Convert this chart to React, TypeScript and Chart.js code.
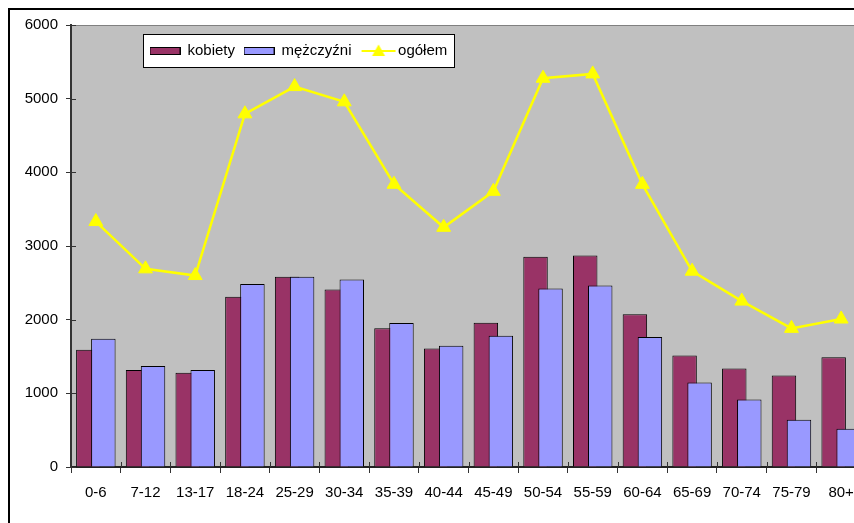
import React, { useEffect, useRef } from "react";
import { Chart, registerables } from "chart.js";

Chart.register(...registerables);

const categories = ["0-6", "7-12", "13-17", "18-24", "25-29", "30-34", "35-39", "40-44", "45-49", "50-54", "55-59", "60-64", "65-69", "70-74", "75-79", "80+"];
const kobiety = [1590, 1318, 1281, 2311, 2582, 2411, 1883, 1607, 1959, 2853, 2871, 2072, 1512, 1336, 1241, 1490];
const mezczyzni = [1742, 1372, 1318, 2483, 2582, 2546, 1955, 1647, 1783, 2424, 2465, 1765, 1146, 916, 641, 519];
const ogolem = [3332, 2690, 2599, 4794, 5164, 4957, 3838, 3254, 3742, 5277, 5336, 3837, 2658, 2252, 1882, 2009];
const yMin = 0;
const yMax = 6000;
const yStep = 1000;

const FONT = "'Liberation Sans', Arial, Helvetica, sans-serif";
const C_K = "#993366";
const C_M = "#9999FF";
const C_L = "#FFFF00";
const C_PLOT = "#C0C0C0";
const C_AXIS = "#333333";

function makeBarSwatch(color: string): HTMLCanvasElement {
  const c = document.createElement("canvas");
  c.width = 31;
  c.height = 15;
  const ctx = c.getContext("2d")!;
  ctx.fillStyle = color;
  ctx.fillRect(0.5, 4.5, 30, 7);
  ctx.strokeStyle = "#000";
  ctx.lineWidth = 1;
  ctx.strokeRect(0.5, 4.5, 30, 7);
  return c;
}

function makeLineSwatch(color: string): HTMLCanvasElement {
  const c = document.createElement("canvas");
  c.width = 44;
  c.height = 15;
  const ctx = c.getContext("2d")!;
  ctx.strokeStyle = color;
  ctx.lineWidth = 2;
  ctx.beginPath();
  ctx.moveTo(8, 8);
  ctx.lineTo(42, 8);
  ctx.stroke();
  ctx.fillStyle = color;
  ctx.beginPath();
  ctx.moveTo(25, 1.5);
  ctx.lineTo(31.5, 13);
  ctx.lineTo(18.5, 13);
  ctx.closePath();
  ctx.fill();
  return c;
}

const decorPlugin = {
  id: "decor",
  afterLayout(chart: any) {
    const lg = chart.legend;
    const ca = chart.chartArea;
    if (!lg || !ca) return;
    lg.left = ca.left + 70;
    lg.top = ca.top + 9;
    lg.width = 400;
    lg.height = 34;
    lg.right = lg.left + lg.width;
    lg.bottom = lg.top + lg.height;
  },
  beforeDraw(chart: any) {
    const { ctx, chartArea: ca } = chart;
    ctx.save();
    ctx.fillStyle = "#ffffff";
    ctx.fillRect(0, 0, chart.width, chart.height);
    ctx.fillStyle = C_PLOT;
    ctx.fillRect(ca.left, ca.top, ca.right - ca.left, ca.bottom - ca.top);
    ctx.strokeStyle = "#808080";
    ctx.lineWidth = 1;
    ctx.strokeRect(ca.left + 0.5, ca.top + 0.5, ca.right - ca.left - 1, ca.bottom - ca.top - 1);
    ctx.strokeStyle = "#000";
    ctx.lineWidth = 2;
    ctx.strokeRect(1, 1, chart.width - 2, chart.height - 2);
    const lg = chart.legend;
    if (lg && lg.legendHitBoxes && lg.legendHitBoxes.length) {
      let maxRight = 0;
      lg.legendHitBoxes.forEach((hb: any) => {
        maxRight = Math.max(maxRight, hb.left + hb.width);
      });
      const l = Math.round(lg.left + 2);
      const t = Math.round(lg.top);
      const r = Math.round(maxRight + 7);
      const b = t + 33;
      ctx.fillStyle = "#ffffff";
      ctx.fillRect(l, t, r - l, b - t);
      ctx.strokeStyle = "#000";
      ctx.lineWidth = 1;
      ctx.strokeRect(l + 0.5, t + 0.5, r - l, b - t);
    }
    ctx.restore();
  },
  afterDraw(chart: any) {
    const { ctx, chartArea: ca } = chart;
    const ys = chart.scales.y;
    const xs = chart.scales.x;
    ctx.save();
    ctx.strokeStyle = C_AXIS;
    ctx.lineWidth = 1;
    ctx.beginPath();
    ys.ticks.forEach((_t: any, i: number) => {
      const py = Math.round(ys.getPixelForTick(i)) + 0.5;
      ctx.moveTo(ca.left, py);
      ctx.lineTo(ca.left + 5, py);
    });
    const n = xs.ticks.length;
    for (let i = 0; i <= n; i++) {
      const px = Math.round(xs.left + (i * xs.width) / n) + 0.5;
      ctx.moveTo(px, ca.bottom - 5);
      ctx.lineTo(px, ca.bottom);
    }
    ctx.stroke();
    ctx.restore();
  },
};

export default function App() {
  const ref = useRef<HTMLCanvasElement | null>(null);

  useEffect(() => {
    const canvas = ref.current;
    if (!canvas) return;
    Chart.defaults.font.family = FONT;
    const swatches = [makeBarSwatch(C_K), makeBarSwatch(C_M), makeLineSwatch(C_L)];

    const chart = new Chart(canvas, {
      type: "bar",
      data: {
        labels: categories,
        datasets: [
          {
            type: "bar",
            label: "kobiety",
            data: kobiety,
            backgroundColor: C_K,
            borderColor: "#000",
            borderWidth: 1,
            order: 2,
            stack: "a",
            categoryPercentage: 0.604,
            barPercentage: 1.63,
          } as any,
          {
            type: "bar",
            label: "mężczyźni",
            data: mezczyzni,
            backgroundColor: C_M,
            borderColor: "#000",
            borderWidth: 1,
            order: 1,
            stack: "b",
            categoryPercentage: 0.604,
            barPercentage: 1.63,
          } as any,
          {
            type: "line",
            label: "ogółem",
            data: ogolem,
            borderColor: C_L,
            backgroundColor: C_L,
            borderWidth: 2.5,
            pointStyle: "triangle",
            pointRadius: 8,
            pointBackgroundColor: C_L,
            pointBorderColor: C_L,
            pointBorderWidth: 1,
            tension: 0,
            order: 0,
          } as any,
          {
            type: "bar",
            label: "_spacer",
            data: categories.map(() => null),
            order: 0.5,
            stack: "a",
            categoryPercentage: 0.604,
            barPercentage: 1.63,
          } as any,
        ],
      },
      options: {
        responsive: false,
        animation: false,
        devicePixelRatio: 1,
        layout: { padding: { left: 0, top: 16, right: 12, bottom: 0 } },
        plugins: {
          tooltip: { enabled: false },
          legend: {
            display: true,
            position: "top",
            align: "start",
            maxHeight: 0.01,
            labels: {
              usePointStyle: true,
              pointStyleWidth: 30,
              padding: 9,
              color: "#000",
              font: { size: 15, family: FONT },
              generateLabels: (ch: any) => {
                const base = (Chart.defaults.plugins.legend.labels as any).generateLabels(ch);
                return base
                  .filter((it: any) => it.datasetIndex < 3)
                  .sort((a: any, b: any) => a.datasetIndex - b.datasetIndex)
                  .map((it: any) => ({ ...it, pointStyle: swatches[it.datasetIndex], lineWidth: 0 }));
              },
            },
          } as any,
        },
        scales: {
          x: {
            type: "category",
            offset: true,
            grid: { offset: true, drawOnChartArea: false, drawTicks: true, tickLength: 6, color: C_AXIS, lineWidth: 1 },
            border: { display: true, color: "#222", width: 2 },
            ticks: { color: "#000", font: { size: 15, family: FONT }, padding: 11, maxRotation: 0, autoSkip: false },
            afterFit: (s: any) => {
              s.height = 81;
            },
          } as any,
          y: {
            type: "linear",
            min: yMin,
            max: yMax,
            grid: { drawOnChartArea: false, drawTicks: true, tickLength: 5, color: C_AXIS, lineWidth: 1 },
            border: { display: true, color: C_AXIS, width: 2 },
            ticks: {
              stepSize: yStep,
              color: "#000",
              font: { size: 15, family: FONT },
              padding: 8,
              callback: (v: any) => String(v),
            },
            afterFit: (s: any) => {
              s.width = 63;
            },
          } as any,
        },
      } as any,
      plugins: [decorPlugin as any],
    });
    return () => chart.destroy();
  }, []);

  return (
    <div style={{ position: "fixed", left: 0, top: 0, width: 854, height: 523, overflow: "hidden", background: "#fff" }}>
      <canvas ref={ref} width={870} height={540} style={{ position: "absolute", left: 8, top: 8, width: 870, height: 540 }} />
    </div>
  );
}
